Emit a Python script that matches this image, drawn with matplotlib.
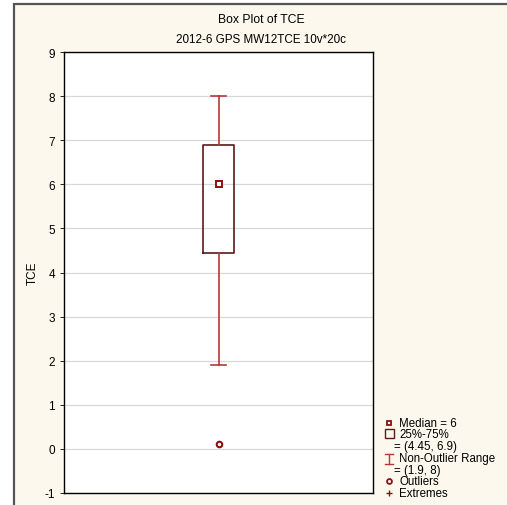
import matplotlib.pyplot as plt
from matplotlib.patches import Rectangle
from matplotlib.lines import Line2D

plt.rcParams['font.family'] = ['Liberation Sans', 'DejaVu Sans']
plt.rcParams['axes.unicode_minus'] = False

# box plot summary for TCE
variable = 'TCE'
median = 6
q1, q3 = 4.45, 6.9
whisker_lo, whisker_hi = 1.9, 8
outliers = [0.12]
yticks = list(range(-1, 10))

cream = '#fdf8ee'
box_col = '#5c1a1a'
whisk_col = '#b23a3a'
dark_red = '#8b1010'

fig = plt.figure(figsize=(5.07, 5.06), dpi=100)
fig.patch.set_facecolor('white')
# outer frame
fig.patches.append(Rectangle((14 / 507, -0.01), 1.0, 1 - 5 / 506 + 0.01, transform=fig.transFigure,
                             facecolor=cream, edgecolor='#555555', linewidth=1.6, zorder=-10))

ax = fig.add_axes([64 / 507, 1 - 494 / 506, (373 - 64) / 507, (494 - 53) / 506])
ax.set_facecolor('white')

stats = [{'med': median, 'q1': q1, 'q3': q3, 'whislo': whisker_lo, 'whishi': whisker_hi,
          'fliers': outliers, 'label': ''}]
ax.bxp(stats, positions=[0], widths=0.1, showcaps=True,
       boxprops=dict(color=box_col, linewidth=1.2),
       whiskerprops=dict(color=whisk_col, linewidth=1.2),
       capprops=dict(color=whisk_col, linewidth=1.2),
       medianprops=dict(linewidth=0),
       flierprops=dict(marker='o', markersize=4, markerfacecolor='white',
                       markeredgecolor=dark_red, markeredgewidth=1.5))
ax.plot([0], [median], marker='s', markersize=4, markerfacecolor='white',
        markeredgecolor=dark_red, markeredgewidth=1.4, zorder=5)

ax.set_xlim(-0.5, 0.5)
ax.set_ylim(-1, 9)
ax.set_yticks(yticks)
ax.set_xticks([])
ax.tick_params(axis='y', labelsize=8.5, length=3, width=0.6)
ax.grid(axis='y', color='#d8d8d8', linewidth=0.9)
ax.set_axisbelow(True)
for s in ax.spines.values():
    s.set_linewidth(1.0)
    s.set_color('black')
ax.set_ylabel(variable, fontsize=8.5, labelpad=4)

fig.text(261 / 507, 1 - 20 / 506, 'Box Plot of ' + variable, ha='center', va='center', fontsize=8.8)
fig.text(261 / 507, 1 - 40 / 506, '2012-6 GPS MW12TCE 10v*20c', ha='center', va='center', fontsize=8.4)

# legend
def fy(y):
    return 1 - y / 506

lx, tx = 389 / 507, 399 / 507
fig.add_artist(Line2D([lx], [fy(424)], marker='s', markersize=3.5, markerfacecolor='white',
                      markeredgecolor=dark_red, markeredgewidth=1.3, transform=fig.transFigure))
fig.add_artist(Rectangle((385 / 507, fy(439)), 9 / 507, 9 / 506, transform=fig.transFigure,
                         facecolor='none', edgecolor=box_col, linewidth=1.0))
fig.add_artist(Line2D([385 / 507, 393 / 507], [fy(455)] * 2, color=whisk_col, lw=1, transform=fig.transFigure))
fig.add_artist(Line2D([385 / 507, 393 / 507], [fy(465)] * 2, color=whisk_col, lw=1, transform=fig.transFigure))
fig.add_artist(Line2D([389 / 507] * 2, [fy(455), fy(465)], color=whisk_col, lw=1, transform=fig.transFigure))
fig.add_artist(Line2D([lx], [fy(482)], marker='o', markersize=3.5, markerfacecolor='white',
                      markeredgecolor=dark_red, markeredgewidth=1.3, transform=fig.transFigure))
fig.add_artist(Line2D([lx], [fy(494)], marker='+', markersize=4, color=dark_red,
                      markeredgewidth=1.0, transform=fig.transFigure))

entries = [
    (tx, 424, 'Median = %g' % median),
    (tx, 435, '25%-75%'),
    (394 / 507, 447, '= (%g, %g)' % (q1, q3)),
    (tx, 459, 'Non-Outlier Range'),
    (394 / 507, 471, '= (%g, %g)' % (whisker_lo, whisker_hi)),
    (tx, 482, 'Outliers'),
    (tx, 494, 'Extremes'),
]
for x, y, s in entries:
    fig.text(x, fy(y), s, ha='left', va='center', fontsize=8.3)

fig.savefig('out.png', dpi=100, facecolor=fig.get_facecolor())
